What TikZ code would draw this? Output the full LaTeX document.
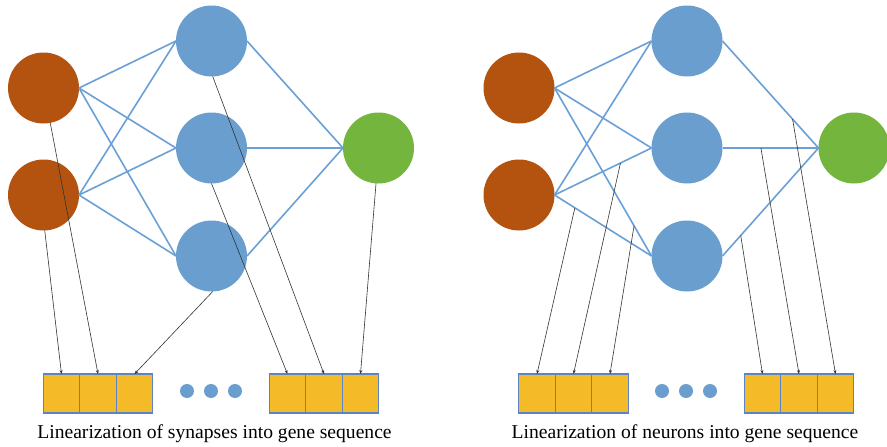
\documentclass[tikz,border=0pt]{standalone}
\usepackage{fontspec}
\setmainfont{Liberation Serif}
\usetikzlibrary{arrows.meta,calc}
\definecolor{neurorange}{HTML}{B4520F}
\definecolor{neurblue}{HTML}{699ECF}
\definecolor{neurgreen}{HTML}{73B53D}
\definecolor{edgeblue}{HTML}{6BA0D6}
\definecolor{geneyellow}{HTML}{F5BA27}
\definecolor{geneborder}{HTML}{5B84C4}
\begin{document}
\begin{tikzpicture}[x=1pt,y=-1pt,
  neuron/.style={circle,minimum size=71pt,inner sep=0pt,outer sep=0pt},
  inneur/.style={neuron,fill=neurorange},
  hidneur/.style={neuron,fill=neurblue},
  outneur/.style={neuron,fill=neurgreen},
  syn/.style={draw=edgeblue,line width=1.6pt},
  gene/.style={rectangle,fill=geneyellow,draw=geneborder,line width=1.2pt,minimum width=36.5pt,minimum height=39pt,inner sep=0pt,outer sep=0pt},
  dotn/.style={circle,fill=neurblue,minimum size=14pt,inner sep=0pt},
  maparrow/.style={draw=black!80,line width=0.6pt,-{Stealth[length=4pt,width=3pt]}},
  caption/.style={font=\fontsize{19.6}{23}\selectfont,anchor=base,inner sep=0pt}]
\useasboundingbox (0,0) rectangle (887,447);
\fill[white] (0,0) rectangle (887,447);

% ---------- left network ----------
\node[inneur]  (lo1) at (43.5,88) {};
\node[inneur]  (lo2) at (43.5,195) {};
\node[hidneur] (lb1) at (211.5,41) {};
\node[hidneur] (lb2) at (211.5,148) {};
\node[hidneur] (lb3) at (211.5,256) {};
\node[outneur] (lg)  at (378.5,148) {};
\foreach \i in {lo1,lo2}{\foreach \j in {lb1,lb2,lb3}{\draw[syn] (\i.east) -- (\j.west);}}
\foreach \j in {lb1,lb2,lb3}{\draw[syn] (\j.east) -- (lg.west);}

\node[gene] (L1) at (61.5,393.5) {};
\node[gene] (L2) at (98,393.5) {};
\node[gene] (L3) at (134.5,393.5) {};
\node[gene] (L4) at (287.5,393.5) {};
\node[gene] (L5) at (324,393.5) {};
\node[gene] (L6) at (360.5,393.5) {};
\node[dotn] (ld1) at (187,391) {};
\node[dotn] (ld2) at (211,391) {};
\node[dotn] (ld3) at (235,391) {};

\draw[maparrow] (lo1.-79) -- (L2.north);
\draw[maparrow] (lo2.-88) -- (L1.north);
\draw[maparrow] (lb3.-88) -- (L3.north);
\draw[maparrow] (lb1.-88) -- (L5.north);
\draw[maparrow] (lb2.-90) -- (L4.north);
\draw[maparrow] (lg.-94) -- (L6.north);

\node[caption] (lcap) at (214.5,438) {Linearization of synapses into gene sequence};

% ---------- right network ----------
\node[inneur]  (ro1) at (519,88) {};
\node[inneur]  (ro2) at (519,195) {};
\node[hidneur] (rb1) at (687,41) {};
\node[hidneur] (rb2) at (687,148) {};
\node[hidneur] (rb3) at (687,256) {};
\node[outneur] (rg)  at (854,148) {};
\foreach \i in {ro1,ro2}{\foreach \j in {rb1,rb2,rb3}{\draw[syn] (\i.east) -- (\j.west);}}
\foreach \j in {rb1,rb2,rb3}{\draw[syn] (\j.east) -- (rg.west);}

\node[gene] (R1) at (537,393.5) {};
\node[gene] (R2) at (573.5,393.5) {};
\node[gene] (R3) at (610,393.5) {};
\node[gene] (R4) at (762.5,393.5) {};
\node[gene] (R5) at (799,393.5) {};
\node[gene] (R6) at (835.5,393.5) {};
\node[dotn] (rd1) at (662,391) {};
\node[dotn] (rd2) at (686,391) {};
\node[dotn] (rd3) at (710,391) {};

\coordinate (ra) at ($(ro2.east)!0.21!(rb3.west)$);
\coordinate (rbp) at ($(ro2.east)!0.68!(rb2.west)$);
\coordinate (rc) at ($(ro1.east)!0.82!(rb3.west)$);
\coordinate (rdp) at ($(rb3.east)!0.19!(rg.west)$);
\coordinate (re) at ($(rb2.east)!0.40!(rg.west)$);
\coordinate (rf) at ($(rb1.east)!0.73!(rg.west)$);
\draw[maparrow] (ra) -- (R1.north);
\draw[maparrow] (rbp) -- (R2.north);
\draw[maparrow] (rc) -- (R3.north);
\draw[maparrow] (rdp) -- (R4.north);
\draw[maparrow] (re) -- (R5.north);
\draw[maparrow] (rf) -- (R6.north);

\node[caption] (rcap) at (685,438) {Linearization of neurons into gene sequence};
\end{tikzpicture}
\end{document}
